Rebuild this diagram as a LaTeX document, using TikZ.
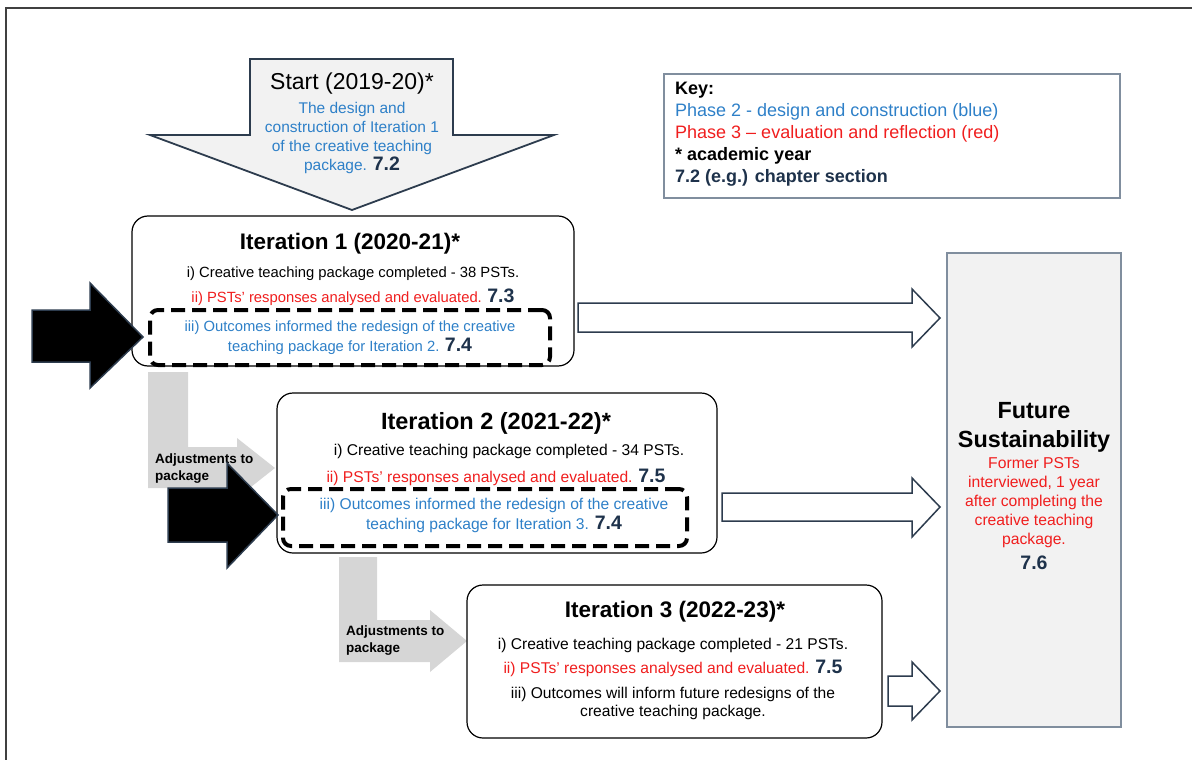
\documentclass[tikz,border=0pt]{standalone}
\usepackage{fontspec}
\setmainfont{Liberation Sans}
\definecolor{bluetxt}{RGB}{46,128,200}
\definecolor{redtxt}{RGB}{240,30,30}
\definecolor{navy}{RGB}{30,50,75}
\definecolor{slate}{RGB}{45,60,78}
\definecolor{lightfill}{RGB}{242,242,242}
\definecolor{adjgray}{RGB}{214,214,214}
\definecolor{keyline}{RGB}{128,142,158}
\newcommand{\secnum}[1]{{\fontsize{19.5}{19.5}\selectfont\bfseries\color{navy}#1}}

\begin{document}
\begin{tikzpicture}[x=1pt, y=-1pt,
    itbox/.style = {draw, rounded corners=16, line width=1.2, fill=white},
    dashbox/.style = {draw, rounded corners=8, line width=4, dash pattern=on 14pt off 7pt},
    title/.style = {font=\fontsize{22.5}{24}\selectfont\bfseries, inner sep=0},
    body/.style = {font=\fontsize{15.6}{18}\selectfont, inner sep=0},
    bodyone/.style = {font=\fontsize{14.8}{18}\selectfont, inner sep=0},
    bluebody/.style = {text=bluetxt, align=center, inner sep=0},
    hollow/.style = {draw=slate, fill=white, line width=1.5},
    solidarrow/.style = {draw=slate, fill=black, line width=1.5},
    adjust/.style = {fill=adjgray},
    adjtext/.style = {font=\fontsize{13.5}{17}\selectfont\bfseries, align=left, anchor=west, inner sep=0}]
    \useasboundingbox (0,0) rectangle (1192,760);
    % outer frame
    \draw[line width=1.5, black!75] (6,760) -- (6,8) -- (1192,8);
    % start arrow
    \draw[fill=lightfill, draw=slate, line width=1.8] (250,59) -- (453,59) -- (453,135) -- (554,135)
        -- (352,210) -- (150,135) -- (250,135) -- cycle;
    \node[font=\fontsize{23}{24}\selectfont, inner sep=0] (start) at (352,84) {Start (2019-20)*};
    \node[text=bluetxt, align=center, inner sep=0, font=\fontsize{15.5}{19}\selectfont] (startb) at (352,138)
        {The design and\\construction of Iteration 1\\of the creative teaching\\package. \secnum{7.2}};
    % key
    \node[draw=keyline, line width=1.5, minimum width=456, minimum height=124] (key) at (892,136) {};
    \node[anchor=west, align=left, inner sep=0, font=\fontsize{18}{22}\selectfont] (keyt) at (675,134)
        {\textbf{Key:}\\
         {\color{bluetxt}Phase 2 - design and construction (blue)}\\
         {\color{redtxt}Phase 3 – evaluation and reflection (red)}\\
         \textbf{* academic year}\\
         {\bfseries\color{navy}7.2 (e.g.) chapter section}};
    % adjustments arrows
    \fill[adjust] (148,372) -- (188,372) -- (188,447) -- (237,447) -- (237,438) -- (275,468)
        -- (237,498) -- (237,488) -- (148,488) -- cycle;
    \fill[adjust] (339,557) -- (377,557) -- (377,620) -- (430,620) -- (430,610) -- (467,641)
        -- (430,672) -- (430,662) -- (339,662) -- cycle;
    % future sustainability
    \node[draw=keyline, fill=lightfill, line width=1.5, minimum width=174, minimum height=474] (fs) at (1034,490) {};
    % iterations
    \node[itbox, minimum width=442, minimum height=150] (it1) at (353,291) {};
    \node[itbox, minimum width=440, minimum height=160] (it2) at (497,473) {};
    \node[itbox, minimum width=415, minimum height=153] (it3) at (674.5,661.5) {};
    % arrows to future sustainability
    \draw[hollow] (578,303) -- (912,303) -- (912,289) -- (940,318) -- (912,347) -- (912,332) -- (578,332) -- cycle;
    \draw[hollow] (722,493) -- (912,493) -- (912,478) -- (940,507) -- (912,537) -- (912,521) -- (722,521) -- cycle;
    \draw[hollow] (888,676) -- (912,676) -- (912,662) -- (940,691) -- (912,720) -- (912,706) -- (888,706) -- cycle;
    % texts
    \node[title] (it1title) at (350,244) {Iteration 1 (2020-21)*};
    \node[bodyone] (it1a) at (353,274) {i) Creative teaching package completed - 38 PSTs.};
    \node[bodyone, text=redtxt] (it1b) at (353,297) {ii) PSTs’ responses analysed and evaluated. \secnum{7.3}};
    \node[bodyone, bluebody, font=\fontsize{14.8}{20}\selectfont] (it1c) at (350,338) {iii) Outcomes informed the redesign of the creative\\teaching package for Iteration 2. \secnum{7.4}};
    \node[title, font=\fontsize{23.5}{24}\selectfont\bfseries] (it2title) at (496,423) {Iteration 2 (2021-22)*};
    \node[body] (it2a) at (509,451) {i) Creative teaching package completed - 34 PSTs.};
    \node[body, text=redtxt] (it2b) at (496,477) {ii) PSTs’ responses analysed and evaluated. \secnum{7.5}};
    \node[body, bluebody, font=\fontsize{15.6}{20}\selectfont] (it2c) at (494,515) {iii) Outcomes informed the redesign of the creative\\teaching package for Iteration 3. \secnum{7.4}};
    \node[title] (it3title) at (675,612) {Iteration 3 (2022-23)*};
    \node[body] (it3a) at (673,645) {i) Creative teaching package completed - 21 PSTs.};
    \node[body, text=redtxt] (it3b) at (673,668) {ii) PSTs’ responses analysed and evaluated. \secnum{7.5}};
    \node[body, align=center, font=\fontsize{15.6}{18}\selectfont] (it3c) at (673,703) {iii) Outcomes will inform future redesigns of the\\creative teaching package.};
    \node[adjtext] (adj1) at (155,468.5) {Adjustments to\\package};
    \node[adjtext] (adj2) at (346,640.5) {Adjustments to\\package};
    \node[align=center, inner sep=0, font=\fontsize{23.4}{29}\selectfont\bfseries] (fstitle) at (1034,427.5) {Future\\Sustainability};
    \node[align=center, inner sep=0, text=redtxt, font=\fontsize{15.7}{19}\selectfont] (fsbody) at (1034,503)
        {Former PSTs\\interviewed, 1 year\\after completing the\\creative teaching\\package.};
    \node[inner sep=0] (fsnum) at (1034,563) {\secnum{7.6}};
    % dashed boxes
    \node[dashbox, minimum width=400, minimum height=55] (it1d) at (350,337.5) {};
    \node[dashbox, minimum width=404, minimum height=57] (it2d) at (485,517.5) {};
    % black arrows
    \draw[solidarrow] (32,310) -- (90,310) -- (90,283) -- (143,337) -- (90,388) -- (90,362) -- (32,362) -- cycle;
    \draw[solidarrow] (168,488) -- (227,488) -- (227,463) -- (278,515) -- (227,568) -- (227,542) -- (168,542) -- cycle;
\end{tikzpicture}
\end{document}
